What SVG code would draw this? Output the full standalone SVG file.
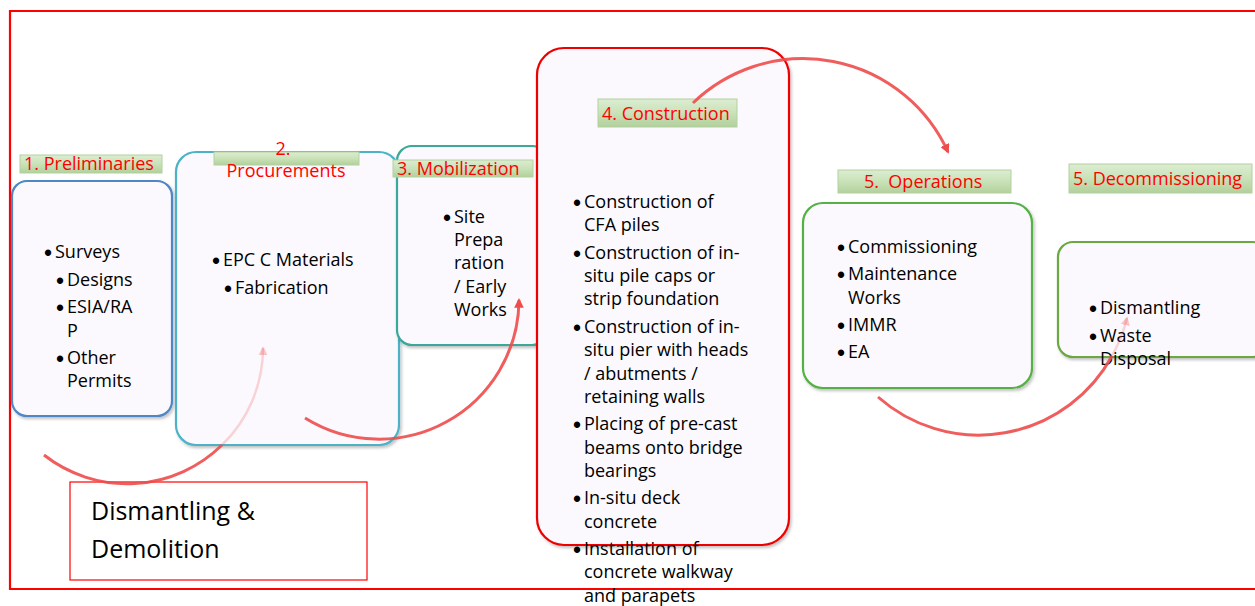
<svg xmlns="http://www.w3.org/2000/svg" width="1255" height="606" viewBox="0 0 1255 606">
<defs>
<style>
.box{fill:#fbf9fd;stroke-width:2.2}
.t{font-family:"Open Sans","Liberation Sans",Arial,sans-serif;font-size:18px;fill:#000}
.b{font-family:"Liberation Sans",Arial,sans-serif;font-size:23px;fill:#000}
.lbl{font-family:"Open Sans","Liberation Sans",Arial,sans-serif;font-size:18px;fill:#ff0000}
.bar{fill:url(#barG);stroke:#b3d09f;stroke-width:1}
.arc{fill:none;stroke:#ee4b4b;stroke-width:3;stroke-opacity:0.9}
.faint{fill:none;stroke:#ee4b4b;stroke-width:2.5;stroke-opacity:0.22}
</style>
<linearGradient id="barG" x1="0" y1="0" x2="0" y2="1">
<stop offset="0" stop-color="#dcedd2"/>
<stop offset="0.5" stop-color="#c9e2b8"/>
<stop offset="1" stop-color="#b2d09c"/>
</linearGradient>
<filter id="sh" x="-10%" y="-10%" width="130%" height="130%">
<feDropShadow dx="1.5" dy="2" stdDeviation="1.5" flood-color="#000" flood-opacity="0.25"/>
</filter>
<marker id="ah" viewBox="0 0 10 10" refX="8" refY="5" markerWidth="3.2" markerHeight="3.2" orient="auto" markerUnits="strokeWidth">
<path d="M0,0 L10,5 L0,10 z" fill="#ee4b4b"/>
</marker>
<marker id="ahf" viewBox="0 0 10 10" refX="8" refY="5" markerWidth="3.6" markerHeight="3.6" orient="auto" markerUnits="strokeWidth">
<path d="M0,0 L10,5 L0,10 z" fill="#ee4b4b" fill-opacity="0.3"/>
</marker>
</defs>

<rect x="0" y="0" width="1255" height="606" fill="#ffffff"/>
<g id="frame">
<path d="M1260,11 H10 V589 H1260" fill="none" stroke="#ff0000" stroke-width="2.2"/>
</g>

<g id="node-preliminaries">
<rect class="box" x="12" y="181" width="160" height="235" rx="15" stroke="#4f86c6" filter="url(#sh)"/>
<rect class="bar" x="20" y="155" width="142" height="18"/>
<text class="lbl" x="24" y="170">1. Preliminaries</text>
<text class="b" x="44" y="261">•</text><text class="t" x="55" y="258">Surveys</text>
<text class="b" x="56" y="289">•</text><text class="t" x="67" y="286">Designs</text>
<text class="b" x="56" y="316">•</text><text class="t" x="67" y="313">ESIA/RA</text>
<text class="t" x="67" y="337">P</text>
<text class="b" x="56" y="367">•</text><text class="t" x="67" y="364">Other</text>
<text class="t" x="67" y="387">Permits</text>
</g>

<g id="node-procurements">
<rect class="box" x="176" y="152" width="223" height="293" rx="20" stroke="#4bb3c6" filter="url(#sh)"/>
<rect class="bar" x="214" y="152" width="145" height="13"/>
<text class="lbl" x="283" y="155" text-anchor="middle">2.</text>
<text class="lbl" x="286" y="177" text-anchor="middle">Procurements</text>
<text class="b" x="212" y="269">•</text><text class="t" x="223" y="266">EPC C Materials</text>
<text class="b" x="224" y="297">•</text><text class="t" x="235" y="294">Fabrication</text>
</g>

<g id="node-mobilization">
<rect class="box" x="397" y="146" width="150" height="199" rx="15" stroke="#3aa899" filter="url(#sh)"/>
<rect class="bar" x="393" y="160" width="140" height="17"/>
<text class="lbl" x="397" y="175">3. Mobilization</text>
<text class="b" x="443" y="226">•</text><text class="t" x="454" y="223">Site</text>
<text class="t" x="454" y="246">Prepa</text>
<text class="t" x="454" y="269">ration</text>
<text class="t" x="454" y="293">/ Early</text>
<text class="t" x="454" y="316">Works</text>
</g>

<g id="node-construction">
<rect class="box" x="537" y="48" width="252" height="497" rx="27" stroke="#ee0000" filter="url(#sh)"/>
<rect class="bar" x="598" y="99" width="139" height="28"/>
<text class="lbl" x="602" y="120">4. Construction</text>
<text class="b" x="573" y="211">•</text><text class="t" x="584" y="208">Construction of</text>
<text class="t" x="584" y="231">CFA piles</text>
<text class="b" x="573" y="262">•</text><text class="t" x="584" y="259">Construction of in-</text>
<text class="t" x="584" y="282">situ pile caps or</text>
<text class="t" x="584" y="305">strip foundation</text>
<text class="b" x="573" y="336">•</text><text class="t" x="584" y="333">Construction of in-</text>
<text class="t" x="584" y="356">situ pier with heads</text>
<text class="t" x="584" y="380">/ abutments /</text>
<text class="t" x="584" y="403">retaining walls</text>
<text class="b" x="573" y="433">•</text><text class="t" x="584" y="430">Placing of pre-cast</text>
<text class="t" x="584" y="454">beams onto bridge</text>
<text class="t" x="584" y="477">bearings</text>
<text class="b" x="573" y="507">•</text><text class="t" x="584" y="504">In-situ deck</text>
<text class="t" x="584" y="528">concrete</text>
<text class="b" x="573" y="558">•</text><text class="t" x="584" y="555">Installation of</text>
<text class="t" x="584" y="578">concrete walkway</text>
<text class="t" x="584" y="602">and parapets</text>
</g>

<g id="node-operations">
<rect class="box" x="803" y="203" width="229" height="185" rx="20" stroke="#55b045" filter="url(#sh)"/>
<rect class="bar" x="838" y="170" width="173" height="23"/>
<text class="lbl" x="864" y="188" xml:space="preserve">5.  Operations</text>
<text class="b" x="837" y="256">•</text><text class="t" x="848" y="253">Commissioning</text>
<text class="b" x="837" y="283">•</text><text class="t" x="848" y="280">Maintenance</text>
<text class="t" x="848" y="304">Works</text>
<text class="b" x="837" y="334">•</text><text class="t" x="848" y="331">IMMR</text>
<text class="b" x="837" y="361">•</text><text class="t" x="848" y="358">EA</text>
</g>

<g id="node-decommissioning">
<rect class="box" x="1058" y="242" width="210" height="115" rx="15" stroke="#6aa843" filter="url(#sh)"/>
<rect class="bar" x="1069" y="164" width="183" height="29"/>
<text class="lbl" x="1073" y="185">5. Decommissioning</text>
<text class="b" x="1089" y="317">•</text><text class="t" x="1100" y="314">Dismantling</text>
<text class="b" x="1089" y="345">•</text><text class="t" x="1100" y="342">Waste</text>
<text class="t" x="1100" y="365">Disposal</text>
</g>

<g id="node-dismantling-demolition">
<rect x="70" y="482" width="297" height="98" fill="#ffffff" stroke="#ff0000" stroke-width="1.2"/>
<text class="t" x="91" y="520" style="font-size:25px">Dismantling &amp;</text>
<text class="t" x="91" y="558" style="font-size:25px">Demolition</text>
</g>

<g id="connectors">
<path class="arc" d="M44,455 A135,135 0 0 0 222,445"/>
<path class="faint" d="M222,445 A135,135 0 0 0 263,348" marker-end="url(#ahf)"/>
<path class="arc" d="M305,418 A140,140 0 0 0 519,300" marker-end="url(#ah)"/>
<path class="arc" d="M693,103 A159,159 0 0 1 948,152" marker-end="url(#ah)"/>
<path class="arc" d="M878,397 A152,152 0 0 0 1112,356"/>
<path class="faint" d="M1112,356 A152,152 0 0 0 1127,318" marker-end="url(#ahf)"/>
</g>
</svg>
